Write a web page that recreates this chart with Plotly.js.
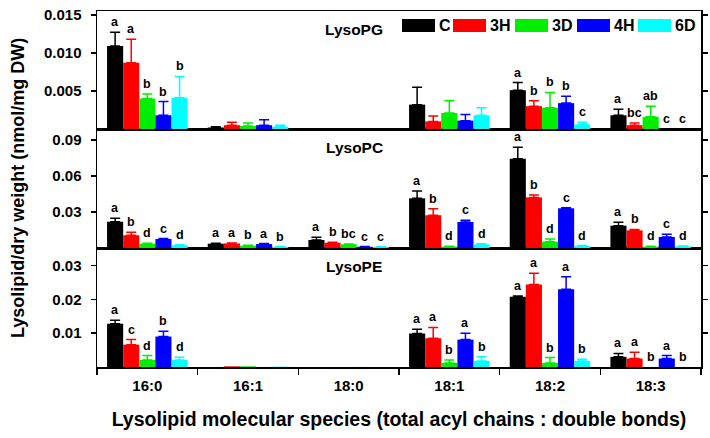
<!DOCTYPE html>
<html><head><meta charset="utf-8">
<script src="https://cdn.plot.ly/plotly-3.0.1.min.js"></script>
<style>html,body{margin:0;padding:0;background:#fff}#chart{width:710px;height:438px}</style>
</head><body><div id="chart"></div>
<script>
// ---------- DATA ----------
const categories = ["16:0", "16:1", "18:0", "18:1", "18:2", "18:3"];
const seriesNames = ["C", "3H", "3D", "4H", "6D"];
const seriesColors = ["#000000", "#ff0000", "#00ee00", "#0000ff", "#00ffff"];
const panelNames = ["LysoPG", "LysoPC", "LysoPE"];

// LysoPG (top panel) : rows = series C,3H,3D,4H,6D ; columns = categories
const pgMeans = [
  [0.0109, 0.0002, 0, 0.0032, 0.0051, 0.0018],
  [0.0087, 0.0005, 0, 0.0010, 0.0030, 0.0005],
  [0.0040, 0.0004, 0, 0.0021, 0.0028, 0.0016],
  [0.0018, 0.0005, 0, 0.0011, 0.0034, 0],
  [0.0041, 0.0003, 0, 0.0018, 0.0006, 0]
];
const pgErrors = [
  [0.0018, 0.0001, 0, 0.0023, 0.0010, 0.0008],
  [0.0031, 0.0004, 0, 0.0007, 0.0007, 0.0003],
  [0.0006, 0.0004, 0, 0.0016, 0.0020, 0.0014],
  [0.0018, 0.0007, 0, 0.0008, 0.0009, 0],
  [0.0028, 0.0002, 0, 0.0010, 0.0003, 0]
];
const pgLetters = [
  ["a", "", "", "", "a", "a"],
  ["a", "", "", "", "b", "bc"],
  ["b", "", "", "", "b", "ab"],
  ["b", "", "", "", "b", "c"],
  ["b", "", "", "", "c", "c"]
];

// LysoPC (middle panel)
const pcMeans = [
  [0.0219, 0.0036, 0.0067, 0.0414, 0.0744, 0.0186],
  [0.0106, 0.0038, 0.0044, 0.0273, 0.0422, 0.0147],
  [0.0036, 0.0020, 0.0031, 0.0012, 0.0053, 0.0012],
  [0.0075, 0.0033, 0.0010, 0.0217, 0.0331, 0.0092],
  [0.0023, 0.0010, 0.0008, 0.0030, 0.0017, 0.0014]
];
const pcErrors = [
  [0.0028, 0.0004, 0.0022, 0.0061, 0.0095, 0.0028],
  [0.0025, 0.0004, 0.0004, 0.0055, 0.0019, 0.0008],
  [0.0003, 0.0002, 0.0002, 0.0002, 0.0022, 0.0002],
  [0.0004, 0.0004, 0.0002, 0.0014, 0.0005, 0.0022],
  [0.0005, 0.0002, 0.0002, 0.0005, 0.0003, 0.0002]
];
const pcLetters = [
  ["a", "a", "a", "a", "a", "a"],
  ["b", "a", "b", "b", "b", "b"],
  ["d", "b", "bc", "d", "d", "d"],
  ["c", "a", "c", "c", "c", "c"],
  ["d", "b", "c", "d", "d", "d"]
];

// LysoPE (bottom panel)
const peMeans = [
  [0.0128, 0, 0, 0.0099, 0.0208, 0.0030],
  [0.0066, 0.0002, 0, 0.0085, 0.0244, 0.0025],
  [0.0021, 0.0002, 0, 0.0012, 0.0012, 0],
  [0.0090, 0, 0, 0.0081, 0.0230, 0.0025],
  [0.0021, 0.0001, 0, 0.0018, 0.0018, 0]
];
const peErrors = [
  [0.0010, 0, 0, 0.0013, 0.0002, 0.0010],
  [0.0015, 0, 0, 0.0032, 0.0033, 0.0019],
  [0.0013, 0, 0, 0.0009, 0.0016, 0],
  [0.0016, 0, 0, 0.0019, 0.0037, 0.0009],
  [0.0008, 0, 0, 0.0012, 0.0005, 0]
];
const peLetters = [
  ["a", "", "", "a", "a", "a"],
  ["c", "", "", "a", "a", "a"],
  ["d", "", "", "b", "b", "b"],
  ["b", "", "", "a", "a", "a"],
  ["d", "", "", "b", "b", "b"]
];

const yTickVals = [[0.005, 0.010, 0.015], [0.03, 0.06, 0.09], [0.01, 0.02, 0.03]];
const yTickText = [["0.005", "0.010", "0.015"], ["0.03", "0.06", "0.09"], ["0.01", "0.02", "0.03"]];
const yTitle = "Lysolipid/dry weight (nmol/mg DW)";
const xTitle = "Lysolipid molecular species (total acyl chains : double bonds)";

// ---------- BUILD ----------
const FONT = "'Liberation Sans', Arial, Helvetica, sans-serif";
const panels = [
  {means: pgMeans, errs: pgErrors, letters: pgLetters, xa: "x3", ya: "y3", range: [0, 0.0155]},
  {means: pcMeans, errs: pcErrors, letters: pcLetters, xa: "x2", ya: "y2", range: [0, 0.0992]},
  {means: peMeans, errs: peErrors, letters: peLetters, xa: "x", ya: "y", range: [0, 0.0352]}
];
const nS = seriesNames.length;
const barGap = 0.2;
const bw = (1 - barGap) / nS;

const traces = [];
const annotations = [];
panels.forEach((p, pi) => {
  for (let s = 0; s < nS; s++) {
    traces.push({
      type: "bar", name: seriesNames[s], x: categories, y: p.means[s],
      xaxis: p.xa, yaxis: p.ya, showlegend: false,
      marker: {color: seriesColors[s], line: {width: 0}},
      error_y: {type: "data", symmetric: false,
        array: p.errs[s].map(e => e > 0 ? e : NaN),
        arrayminus: p.errs[s].map(e => e > 0 ? 0 : NaN), color: seriesColors[s],
        thickness: 1.5, width: 5, visible: true},
      hoverinfo: "x+y+name"
    });
    const off = -(1 - barGap) / 2 + bw * (s + 0.5);
    categories.forEach((c, ci) => {
      const t = p.letters[s][ci];
      if (!t) return;
      annotations.push({
        xref: p.xa, yref: p.ya, x: ci + off, y: p.means[s][ci] + p.errs[s][ci],
        text: t, showarrow: false, xanchor: "center", yanchor: "bottom", yshift: 1,
        font: {family: FONT, size: 12.5, color: "#000", weight: "bold"}
      });
    });
  }
});

// plot geometry helpers (layout only)
const L = 97, R = 701, T = 11, B = 367;
const px2x = px => (px - L) / (R - L);
const py2y = py => (B - py) / (B - T);

// panel labels
const panelLabelY = [29, 147, 266];
panelNames.forEach((n, i) => {
  annotations.push({xref: "paper", yref: "paper", x: px2x(354), y: py2y(panelLabelY[i]),
    text: n, showarrow: false, xanchor: "center", yanchor: "middle",
    font: {family: FONT, size: 15.5, color: "#000", weight: "bold"}});
});

// legend (custom, to mimic wide swatches)
const shapes = [];
const legendStarts = [402, 453, 515, 577, 638];
seriesNames.forEach((n, i) => {
  const x0 = legendStarts[i];
  shapes.push({type: "rect", xref: "paper", yref: "paper",
    x0: px2x(x0), x1: px2x(x0 + 33), y0: py2y(32), y1: py2y(19),
    fillcolor: seriesColors[i], line: {width: 0}});
  annotations.push({xref: "paper", yref: "paper", x: px2x(x0 + 35), y: py2y(25.5),
    text: n, showarrow: false, xanchor: "left", yanchor: "middle",
    font: {family: FONT, size: 16, color: "#000", weight: "bold"}});
});

// y title
annotations.push({xref: "paper", yref: "paper", x: px2x(18), y: py2y(188),
  text: yTitle, textangle: -90, showarrow: false, xanchor: "center", yanchor: "middle",
  font: {family: FONT, size: 18, color: "#000", weight: "bold"}});

const h = B - T;
const dBottom = [0, (B - 248) / h];
const dMiddle = [(B - 248) / h, (B - 129) / h];
const dTop = [(B - 129) / h, 1];

const axisCommon = {showline: true, linecolor: "#000", linewidth: 1.5, showgrid: false,
  zeroline: false, fixedrange: true};
const yCommon = (i, dom) => Object.assign({}, axisCommon, {
  domain: dom, range: panels[i].range, tickmode: "array",
  tickvals: yTickVals[i], ticktext: yTickText[i], ticks: "outside", ticklen: 5,
  tickwidth: 1.5, tickcolor: "#000", mirror: "ticks", ticklabelstandoff: 6,
  tickfont: {family: FONT, size: 15, color: "#000", weight: "bold"}
});

const layout = {
  width: 710, height: 438,
  margin: {l: L, r: 710 - R, t: T, b: 438 - B},
  paper_bgcolor: "#fff", plot_bgcolor: "#fff",
  barmode: "group", bargap: barGap, bargroupgap: 0,
  showlegend: false,
  font: {family: FONT, color: "#000"},
  xaxis: Object.assign({}, axisCommon, {
    type: "category", range: [-0.5, 5.5], anchor: "y", mirror: true,
    ticks: "outside", tickson: "boundaries", ticklen: 6, tickwidth: 1.5, tickcolor: "#000",
    ticklabelstandoff: 4,
    tickfont: {family: FONT, size: 15, color: "#000", weight: "bold"},
    title: {text: xTitle, standoff: 20,
      font: {family: FONT, size: 19.5, color: "#000", weight: "bold"}}
  }),
  xaxis2: Object.assign({}, axisCommon, {type: "category", range: [-0.5, 5.5],
    anchor: "y2", matches: "x", mirror: true, showticklabels: false, ticks: ""}),
  xaxis3: Object.assign({}, axisCommon, {type: "category", range: [-0.5, 5.5],
    anchor: "y3", matches: "x", mirror: true, showticklabels: false, ticks: ""}),
  yaxis: Object.assign(yCommon(2, dBottom), {anchor: "x"}),
  yaxis2: Object.assign(yCommon(1, dMiddle), {anchor: "x2"}),
  yaxis3: Object.assign(yCommon(0, dTop), {anchor: "x3"}),
  annotations: annotations,
  shapes: shapes
};

Plotly.newPlot("chart", traces, layout, {displayModeBar: false, staticPlot: true});
</script>
</body></html>
